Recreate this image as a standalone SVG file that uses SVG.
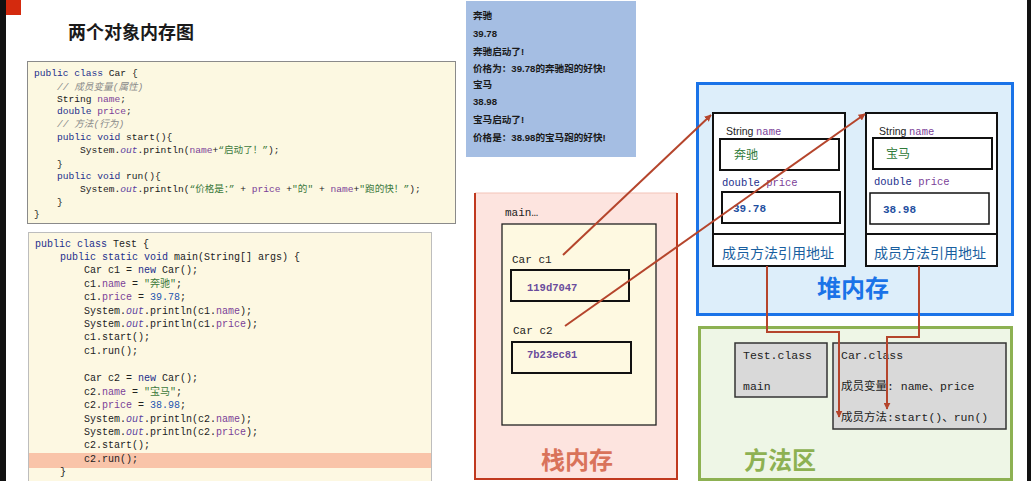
<svg xmlns="http://www.w3.org/2000/svg" width="1031" height="481" viewBox="0 0 1031 481">
<defs>
<marker id="ah" viewBox="0 0 10 10" refX="9" refY="5" markerWidth="7" markerHeight="7" markerUnits="userSpaceOnUse" orient="auto"><path d="M0,0 L10,5 L0,10 z" fill="#b5452c"/></marker>
<style>
.code{font-family:"Liberation Mono","Noto Sans CJK SC",monospace;font-size:9.6px;fill:#222}
.code2{font-family:"Liberation Mono","Noto Sans CJK SC",monospace;font-size:10px;fill:#222}
.kw{fill:#1c2f8c}
.fld{fill:#7b3f98}
.str{fill:#3d7a3d}
.num{fill:#2456b0}
.cm{fill:#8a8a8a;font-style:italic}
.it{font-style:italic;fill:#5b3fa0}
.out{font-family:"Liberation Sans","Noto Sans CJK SC",sans-serif;font-size:9.6px;font-weight:bold;fill:#1a1a1a}
.mono{font-family:"Liberation Mono","Noto Sans CJK SC",monospace;font-size:11px;fill:#222}
.mono2{font-family:"Liberation Mono","Noto Sans CJK SC",monospace;font-size:11.5px;fill:#222}
.cjk{font-family:"Liberation Sans","Noto Sans CJK SC",sans-serif}
.big{font-family:"Noto Sans CJK SC",sans-serif;font-size:24px;font-weight:bold}
.addr{font-family:"Liberation Mono",monospace;font-size:10.5px;font-weight:bold;fill:#6a4c9c}
.box{fill:#fff;stroke:#111;stroke-width:2}
.fbox{fill:#fff;stroke:#111;stroke-width:2}
.conn{fill:none;stroke:#b5452c;stroke-width:2}
.meth{font-family:"Noto Sans CJK SC",sans-serif;font-size:14px;fill:#1a5fa0}
</style>
</defs>
<rect width="1031" height="481" fill="#fff"/>
<rect x="0" y="0" width="6" height="481" fill="#111"/>
<rect x="6" y="0" width="15" height="15" fill="#d42a0e"/>
<rect x="1027" y="0" width="4" height="481" fill="#111"/>
<g id="title"><text x="68" y="39" font-family="Noto Sans CJK SC,sans-serif" font-size="18" font-weight="bold" fill="#1a1a1a">两个对象内存图</text></g>

<g id="car-code">
<rect x="27.5" y="61.5" width="428" height="162" fill="#fcf8e1" stroke="#8a8a8a" stroke-width="1"/>
<text class="code" x="34" y="75.5"><tspan class="kw">public class</tspan> Car {</text>
<text class="code cm" x="57" y="89.5">// 成员变量(属性)</text>
<text class="code" x="57" y="101.5">String <tspan class="fld">name</tspan>;</text>
<text class="code" x="57" y="113.5"><tspan class="kw">double</tspan> <tspan class="fld">price</tspan>;</text>
<text class="code cm" x="57" y="126.5">// 方法(行为)</text>
<text class="code" x="57" y="139.5"><tspan class="kw">public void</tspan> start(){</text>
<text class="code" x="80" y="152.5">System.<tspan class="it">out</tspan>.println(<tspan class="fld">name</tspan>+<tspan class="str">“启动了！”</tspan>);</text>
<text class="code" x="57" y="166.5">}</text>
<text class="code" x="57" y="178.5"><tspan class="kw">public void</tspan> run(){</text>
<text class="code" x="80" y="191.5">System.<tspan class="it">out</tspan>.println(<tspan class="str">“价格是：”</tspan> + <tspan class="fld">price</tspan> +<tspan class="str">"的"</tspan> + <tspan class="fld">name</tspan>+<tspan class="str">"跑的快！”</tspan>);</text>
<text class="code" x="57" y="204.5">}</text>
<text class="code" x="34" y="216.5">}</text>
</g>

<g id="test-code">
<rect x="28.5" y="232.5" width="403" height="252" fill="#fdf8e2" stroke="#bdbdbd" stroke-width="1"/>
<rect x="29" y="453" width="402" height="15" fill="#f9c4a9"/>
<text class="code2" x="35" y="246.5"><tspan class="kw">public class</tspan> Test {</text>
<text class="code2" x="60" y="259.5"><tspan class="kw">public static void</tspan> main(String[] args) {</text>
<text class="code2" x="84" y="273">Car c1 = <tspan class="kw">new</tspan> Car();</text>
<text class="code2" x="84" y="286.5">c1.<tspan class="fld">name</tspan> = <tspan class="str">"奔驰"</tspan>;</text>
<text class="code2" x="84" y="299.5">c1.<tspan class="fld">price</tspan> = <tspan class="num">39.78</tspan>;</text>
<text class="code2" x="84" y="313.5">System.<tspan class="it">out</tspan>.println(c1.<tspan class="fld">name</tspan>);</text>
<text class="code2" x="84" y="326.5">System.<tspan class="it">out</tspan>.println(c1.<tspan class="fld">price</tspan>);</text>
<text class="code2" x="84" y="339.5">c1.start();</text>
<text class="code2" x="84" y="353.5">c1.run();</text>
<text class="code2" x="84" y="380.5">Car c2 = <tspan class="kw">new</tspan> Car();</text>
<text class="code2" x="84" y="394.5">c2.<tspan class="fld">name</tspan> = <tspan class="str">"宝马"</tspan>;</text>
<text class="code2" x="84" y="407.5">c2.<tspan class="fld">price</tspan> = <tspan class="num">38.98</tspan>;</text>
<text class="code2" x="84" y="421.5">System.<tspan class="it">out</tspan>.println(c2.<tspan class="fld">name</tspan>);</text>
<text class="code2" x="84" y="434.5">System.<tspan class="it">out</tspan>.println(c2.<tspan class="fld">price</tspan>);</text>
<text class="code2" x="84" y="447.5">c2.start();</text>
<text class="code2" x="84" y="461.5">c2.run();</text>
<text class="code2" x="60" y="474.5">}</text>
</g>

<g id="console">
<rect x="466" y="1" width="170" height="156" fill="#a5bee3"/>
<text class="out" x="473" y="18.5">奔驰</text>
<text class="out" x="473" y="36.5">39.78</text>
<text class="out" x="473" y="54.5">奔驰启动了!</text>
<text class="out" x="473" y="71.5">价格为：39.78的奔驰跑的好快!</text>
<text class="out" x="473" y="87.5">宝马</text>
<text class="out" x="473" y="104.5">38.98</text>
<text class="out" x="473" y="122.5">宝马启动了!</text>
<text class="out" x="473" y="140.5">价格是：38.98的宝马跑的好快!</text>
</g>

<g id="stack">
<rect x="475" y="193" width="202" height="287" fill="#fde4df"/>
<line x1="475" y1="193" x2="677" y2="193" stroke="#f3c3b8" stroke-width="1"/>
<path d="M475,193 V479 H677 V193" fill="none" stroke="#c0391f" stroke-width="2"/>
<text class="mono" x="505" y="216">main…</text>
<rect x="502" y="224" width="154" height="201" fill="#fef9e1" stroke="#222" stroke-width="1.3"/>
<text class="mono" x="512" y="263">Car  c1</text>
<rect x="511" y="270" width="118" height="31" fill="none" stroke="#111" stroke-width="2"/>
<text class="addr" x="527" y="291">119d7047</text>
<text class="mono" x="513" y="334">Car  c2</text>
<rect x="512" y="342" width="119" height="31" fill="none" stroke="#111" stroke-width="2"/>
<text class="addr" x="527" y="358">7b23ec81</text>
<text class="big" x="577" y="469" text-anchor="middle" fill="#d9735a">栈内存</text>
</g>

<g id="heap">
<rect x="697.5" y="83.5" width="315" height="231" fill="#ddeefa" stroke="#1a73e8" stroke-width="3"/>
<text class="big" x="853" y="297" text-anchor="middle" fill="#1a73e8">堆内存</text>
</g>

<g id="obj1">
<rect x="713" y="113" width="132" height="153" class="box"/>
<line x1="713" y1="234" x2="845" y2="234" stroke="#111" stroke-width="2"/>
<text x="726" y="135" font-size="10.5"><tspan class="cjk" fill="#222">String</tspan> <tspan font-family="Liberation Mono,monospace" fill="#7b3f98">name</tspan></text>
<rect x="720" y="139" width="119" height="31" class="fbox" stroke-width="1.5"/>
<text x="734" y="159" font-size="12" fill="#2f7a3a" font-family="Noto Sans CJK SC,sans-serif">奔驰</text>
<text x="722" y="185.5" font-size="10.5" font-family="Liberation Mono,monospace"><tspan fill="#1c2f8c">double</tspan> <tspan fill="#7b3f98">price</tspan></text>
<rect x="722" y="192" width="118" height="31" class="fbox"/>
<text x="733" y="212" font-size="11" font-weight="bold" fill="#1f4fa0" font-family="Liberation Mono,monospace">39.78</text>
<text class="meth" x="722" y="258">成员方法引用地址</text>
</g>

<g id="obj2">
<rect x="866" y="113" width="131" height="153" class="box"/>
<line x1="866" y1="234" x2="997" y2="234" stroke="#111" stroke-width="2"/>
<text x="879" y="134.5" font-size="10.5"><tspan class="cjk" fill="#222">String</tspan> <tspan font-family="Liberation Mono,monospace" fill="#7b3f98">name</tspan></text>
<rect x="873" y="138" width="119" height="31" class="fbox"/>
<text x="886" y="158" font-size="12" fill="#2f7a3a" font-family="Noto Sans CJK SC,sans-serif">宝马</text>
<text x="874" y="184.5" font-size="10.5" font-family="Liberation Mono,monospace"><tspan fill="#1c2f8c">double</tspan> <tspan fill="#7b3f98">price</tspan></text>
<rect x="870" y="193" width="119" height="31" fill="#fff" stroke="#111" stroke-width="1.5"/>
<text x="883" y="213" font-size="11" font-weight="bold" fill="#1f4fa0" font-family="Liberation Mono,monospace">38.98</text>
<text class="meth" x="874" y="258">成员方法引用地址</text>
</g>

<g id="method-area">
<rect x="699.5" y="327.5" width="312" height="152" fill="#eef6e6" stroke="#8db152" stroke-width="3"/>
<text class="big" x="780" y="469" text-anchor="middle" fill="#8db152">方法区</text>
</g>

<g id="test-class">
<rect x="735" y="343" width="92" height="54" fill="#d9d9d9" stroke="#333" stroke-width="1.5"/>
<text class="mono2" x="743" y="359">Test.class</text>
<text class="mono2" x="743" y="390">main</text>
</g>

<g id="car-class">
<rect x="833" y="343" width="173" height="86" fill="#d9d9d9" stroke="#333" stroke-width="1.5"/>
<text class="mono2" x="841" y="359">Car.class</text>
<text class="mono2" x="841" y="390">成员变量: name、price</text>
<text class="mono2" x="841" y="421">成员方法:start()、run()</text>
</g>

<g id="connectors">
<line class="conn" x1="563" y1="255" x2="711" y2="115" marker-end="url(#ah)"/>
<line class="conn" x1="565" y1="326" x2="865" y2="114" marker-end="url(#ah)"/>
<path class="conn" d="M767,266 V332 H839 V417" marker-end="url(#ah)"/>
<path class="conn" d="M919,266 V337 H887 V409" marker-end="url(#ah)"/>
</g>
</svg>
